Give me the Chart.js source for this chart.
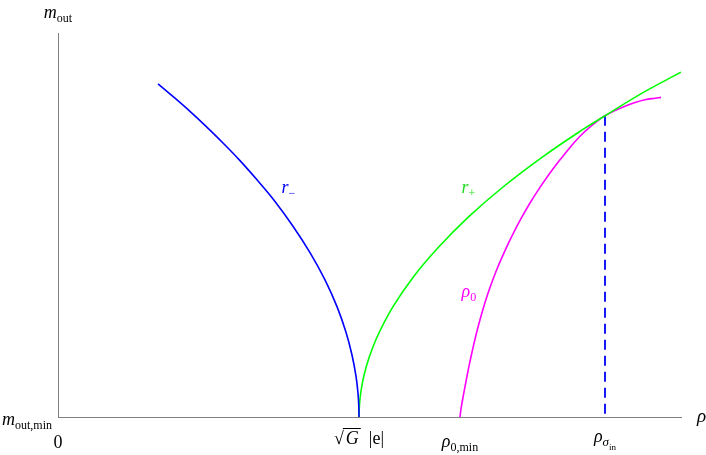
<!DOCTYPE html>
<html>
<head>
<meta charset="utf-8">
<script src="https://cdn.jsdelivr.net/npm/chart.js@4"></script>
<style>
  html, body { margin: 0; padding: 0; background: #fff; }
  #wrap { width: 706px; height: 455px; }
</style>
</head>
<body>
<div id="wrap"><canvas id="chart" width="706" height="455"></canvas></div>
<script>
// r- branch (blue)
const rMinusX = [2.00, 2.34, 2.64, 2.94, 3.30, 3.64, 3.98, 4.34, 4.70, 5.04, 5.34, 5.58, 5.76, 5.88, 5.96, 6.00, 6.015, 6.02];
const rMinusY = [8.33, 7.97, 7.64, 7.29, 6.85, 6.41, 5.93, 5.39, 4.77, 4.11, 3.43, 2.76, 2.12, 1.55, 1.02, 0.59, 0.29, 0];

// r+ branch (green)
const rPlusX = [6.02, 6.03, 6.06, 6.12, 6.22, 6.40, 6.70, 7.10, 7.60, 8.20, 8.90, 9.70, 10.50, 10.94, 11.70, 12.46];
const rPlusY = [0, 0.32, 0.65, 1.04, 1.48, 2.05, 2.76, 3.49, 4.23, 4.99, 5.75, 6.51, 7.19, 7.53, 8.11, 8.62];

// rho_0 (magenta)
const rho0X = [8.04, 8.06, 8.10, 8.16, 8.22, 8.28, 8.36, 8.44, 8.54, 8.64, 8.78, 8.94, 9.10, 9.26, 9.44, 9.64, 9.84,
               10.04, 10.24, 10.44, 10.64, 10.84, 10.94, 11.14, 11.34, 11.54, 11.74, 11.94, 12.06];
const rho0Y = [0, 0.20, 0.49, 0.89, 1.27, 1.62, 2.05, 2.43, 2.86, 3.24, 3.70, 4.16, 4.58, 4.96, 5.35, 5.74, 6.10,
               6.43, 6.74, 7.02, 7.25, 7.45, 7.53, 7.66, 7.77, 7.86, 7.93, 7.97, 7.99];

// rho_sigma_in marker (dashed, drawn top to bottom)
const sigmaX = [10.94, 10.94];
const sigmaY = [7.53, 0];

// x-axis tick positions and labels: [text, size, italic, dy, extraAdvance, bar]
const tickValues = [0, 6.02, 8.04, 10.94];
const tickLabels = [
  [['0', 18, false, 0]],
  [['\u221A', 18, false, 0, 2], ['G', 18, true, 0, 1, true], ['  |e|', 18, false, 0]],
  [['\u03C1', 18, true, 0], ['0,min', 12, false, 4]],
  [['\u03C1', 18, true, 0], ['\u03C3', 13, true, 4], ['in', 9, false, 8]]
];
const tickBaseline = [31, 27, 30, 25];

const FONT = '"Liberation Serif", "DejaVu Serif", serif';

function pts(xs, ys) {
  return xs.map((x, i) => ({ x: x, y: ys[i] }));
}

function segFont(s) {
  return (s[2] ? 'italic ' : '') + s[1] + 'px ' + FONT;
}

function drawRich(ctx, segs, x, y, align, color) {
  let w = 0;
  segs.forEach(s => { ctx.font = segFont(s); w += ctx.measureText(s[0]).width + (s[4] || 0); });
  let cx = align === 'center' ? x - w / 2 : align === 'right' ? x - w : x;
  ctx.fillStyle = color;
  ctx.strokeStyle = color;
  ctx.textAlign = 'left';
  ctx.textBaseline = 'alphabetic';
  segs.forEach(s => {
    ctx.font = segFont(s);
    const sw = ctx.measureText(s[0]).width;
    ctx.fillText(s[0], cx, y + s[3]);
    if (s[5]) {
      // radical bar over the symbol
      ctx.lineWidth = 1;
      ctx.beginPath();
      ctx.moveTo(cx - 3, y - 15.5);
      ctx.lineTo(cx + sw + 2, y - 15.5);
      ctx.stroke();
    }
    cx += sw + (s[4] || 0);
  });
}

const labelsPlugin = {
  id: 'labels',
  afterDraw(chart) {
    const ctx = chart.ctx;
    const xs = chart.scales.x, ys = chart.scales.y;
    const y0 = ys.getPixelForValue(0);
    ctx.save();
    // axis titles
    drawRich(ctx, [['m', 18, true, 0], ['out', 12, false, 4]], xs.getPixelForValue(0), 18, 'center', '#000');
    drawRich(ctx, [['m', 18, true, 0], ['out,min', 12, false, 4]], xs.left - 6, y0 + 8, 'right', '#000');
    drawRich(ctx, [['\u03C1', 19, true, 0]], xs.right + 16, y0 + 5, 'left', '#000');
    // x ticks
    tickValues.forEach((v, i) => {
      drawRich(ctx, tickLabels[i], xs.getPixelForValue(v), y0 + tickBaseline[i], 'center', '#000');
    });
    // curve labels
    drawRich(ctx, [['r', 18, true, 0], ['\u2212', 12, false, 4]], xs.getPixelForValue(4.47), ys.getPixelForValue(5.6), 'left', '#0000ff');
    drawRich(ctx, [['r', 18, true, 0], ['+', 12, false, 4]], xs.getPixelForValue(8.07), ys.getPixelForValue(5.6), 'left', '#22dd22');
    drawRich(ctx, [['\u03C1', 18, true, 0], ['0', 12, false, 4]], xs.getPixelForValue(8.07), ys.getPixelForValue(3.0), 'left', '#ff00ff');
    ctx.restore();
  }
};

const lineStyle = { showLine: true, pointRadius: 0, borderWidth: 1.6, tension: 0.4 };

new Chart(document.getElementById('chart'), {
  type: 'scatter',
  data: {
    datasets: [
      Object.assign({ data: pts(rMinusX, rMinusY), borderColor: '#0000ff' }, lineStyle),
      Object.assign({ data: pts(rPlusX, rPlusY), borderColor: '#00ff00' }, lineStyle),
      Object.assign({ data: pts(rho0X, rho0Y), borderColor: '#ff00ff' }, lineStyle),
      { data: pts(sigmaX, sigmaY), borderColor: '#0000ff', borderWidth: 1.8, borderDash: [10, 6], showLine: true, pointRadius: 0 }
    ]
  },
  options: {
    responsive: false,
    animation: false,
    layout: { padding: { left: 58, right: 25, top: 33, bottom: 38 } },
    plugins: { legend: { display: false }, tooltip: { enabled: false } },
    scales: {
      x: {
        type: 'linear', min: 0, max: 12.46,
        grid: { display: false, drawTicks: false },
        border: { display: true, color: '#808080', width: 1 },
        ticks: { display: false }
      },
      y: {
        type: 'linear', min: 0, max: 9.6,
        grid: { display: false, drawTicks: false },
        border: { display: true, color: '#808080', width: 1 },
        ticks: { display: false }
      }
    }
  },
  plugins: [labelsPlugin]
});
</script>
</body>
</html>
